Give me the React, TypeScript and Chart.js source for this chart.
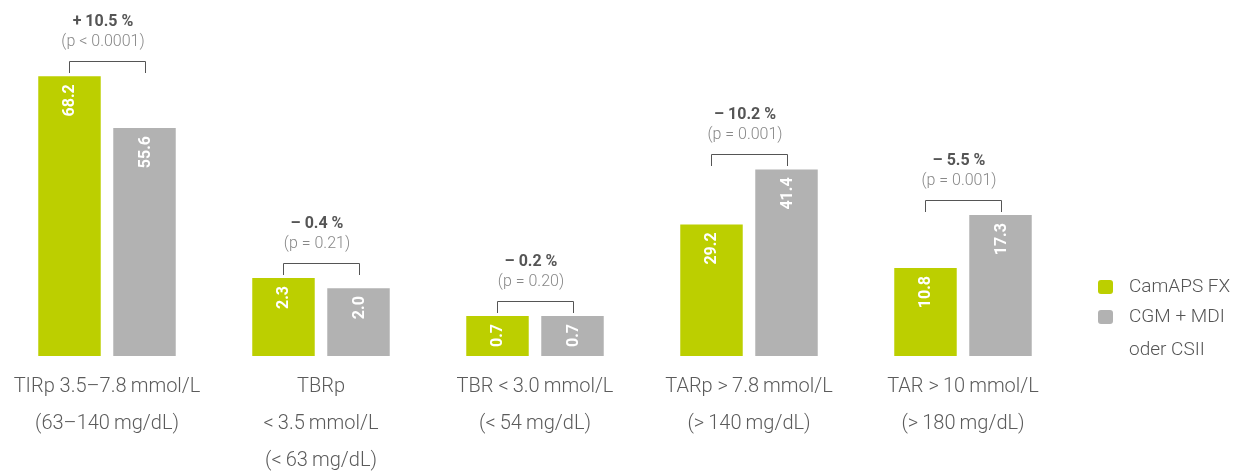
import React, { useEffect, useRef } from "react";
import { Chart, registerables } from "chart.js";

Chart.register(...registerables);

const categories: string[][] = [
  ["TIRp 3.5–7.8\u2009mmol/L", "(63–140\u2009mg/dL)"],
  ["TBRp", "<\u20093.5\u2009mmol/L", "(<\u200963\u2009mg/dL)"],
  ["TBR <\u20093.0\u2009mmol/L", "(<\u200954\u2009mg/dL)"],
  ["TARp >\u20097.8\u2009mmol/L", "(>\u2009140\u2009mg/dL)"],
  ["TAR >\u200910\u2009mmol/L", "(>\u2009180\u2009mg/dL)"],
];

const camapsValues = [68.2, 2.3, 0.7, 29.2, 10.8];
const comparatorValues = [55.6, 2.0, 0.7, 41.4, 17.3];
const differences = ["+ 10.5 %", "– 0.4 %", "– 0.2 %", "– 10.2 %", "– 5.5 %"];
const pValues = ["(p < 0.0001)", "(p = 0.21)", "(p = 0.20)", "(p = 0.001)", "(p = 0.001)"];
// each group in the original is drawn on its own (hidden) value scale
const groupScaleMax = [86.8, 10.5, 6.23, 79, 43.7];
const seriesNames = ["CamAPS FX", "CGM + MDI oder CSII"];
const legendLines: string[][] = [["CamAPS FX"], ["CGM + MDI", "oder CSII"]];

const GREEN = "#bccf00";
const GREY = "#b2b2b2";
const FONT = "Roboto, 'Liberation Sans', Arial, sans-serif";

const valueLabelPlugin = {
  id: "valueLabels",
  afterDatasetsDraw(chart: any) {
    const ctx = chart.ctx;
    ctx.save();
    ctx.font = `bold 16px ${FONT}`;
    ctx.fillStyle = "#ffffff";
    ctx.textAlign = "right";
    ctx.textBaseline = "middle";
    chart.data.datasets.forEach((ds: any, di: number) => {
      const meta = chart.getDatasetMeta(di);
      ds.data.forEach((v: number | null, i: number) => {
        if (v === null || v === undefined) return;
        const el = meta.data[i];
        ctx.save();
        ctx.translate(el.x, el.y + 8);
        ctx.rotate(-Math.PI / 2);
        ctx.fillText(v.toFixed(1), 0, 1);
        ctx.restore();
      });
    });
    ctx.restore();
  },
};

const annotationPlugin = {
  id: "groupAnnotations",
  afterDatasetsDraw(chart: any) {
    const ctx = chart.ctx;
    ctx.save();
    for (let g = 0; g < categories.length; g++) {
      const a = chart.getDatasetMeta(2 * g).data[g];
      const b = chart.getDatasetMeta(2 * g + 1).data[g];
      if (!a || !b) continue;
      const top = Math.min(a.y, b.y);
      const by = Math.round(top - 15) + 0.5;
      const legEnd = Math.round(top - 3);
      const x1 = Math.round(a.x) + 0.5;
      const x2 = Math.round(b.x) + 0.5;
      ctx.strokeStyle = "#555555";
      ctx.lineWidth = 1;
      ctx.beginPath();
      ctx.moveTo(x1, legEnd);
      ctx.lineTo(x1, by);
      ctx.lineTo(x2, by);
      ctx.lineTo(x2, legEnd);
      ctx.stroke();
      const cx = (a.x + b.x) / 2 - 4;
      ctx.textAlign = "center";
      ctx.textBaseline = "middle";
      ctx.fillStyle = "#555555";
      ctx.font = `bold 16px ${FONT}`;
      ctx.fillText(differences[g], cx, by - 40);
      ctx.fillStyle = "#888888";
      ctx.font = `300 16px ${FONT}`;
      ctx.fillText(pValues[g], cx, by - 20);
    }
    ctx.restore();
  },
};

const legendPlugin = {
  id: "sideLegend",
  afterDraw(chart: any) {
    const ctx = chart.ctx;
    const area = chart.chartArea;
    const x0 = area.right + 28;
    let y = area.bottom - 69;
    const colors = [GREEN, GREY];
    ctx.save();
    ctx.textAlign = "left";
    ctx.textBaseline = "middle";
    ctx.font = `300 19px ${FONT}`;
    legendLines.forEach((lines, i) => {
      ctx.fillStyle = colors[i];
      ctx.beginPath();
      (ctx as any).roundRect(x0, y - 7, 15, 14, 3);
      ctx.fill();
      ctx.fillStyle = "#555555";
      lines.forEach((t, li) => {
        ctx.fillText(t, x0 + 31, y + li * 33);
      });
      y += 30 + (lines.length - 1) * 33;
    });
    ctx.restore();
  },
};

export default function App() {
  const ref = useRef<HTMLCanvasElement | null>(null);
  useEffect(() => {
    document.body.style.margin = "0";
    if (!ref.current) return;
    const datasets: any[] = [];
    for (let g = 0; g < categories.length; g++) {
      datasets.push({
        label: seriesNames[0],
        data: categories.map((_, i) => (i === g ? camapsValues[g] : null)),
        backgroundColor: GREEN,
        yAxisID: "y" + g,
      });
      datasets.push({
        label: seriesNames[1],
        data: categories.map((_, i) => (i === g ? comparatorValues[g] : null)),
        backgroundColor: GREY,
        yAxisID: "y" + g,
      });
    }
    const scales: any = {
      x: {
        type: "category",
        offset: true,
        stacked: false,
        grid: { display: false, drawTicks: false },
        border: { display: false },
        ticks: {
          padding: 12,
          color: "#5b5b5b",
          autoSkip: false,
          maxRotation: 0,
          font: { family: FONT, size: 20, weight: "300", lineHeight: 37 / 20 },
        },
        afterFit: (s: any) => {
          s.height = 117;
        },
      },
    };
    groupScaleMax.forEach((m, g) => {
      scales["y" + g] = { type: "linear", display: false, min: 0, max: m, stacked: false };
    });
    const chart = new Chart(ref.current, {
      type: "bar",
      data: { labels: categories, datasets },
      options: {
        responsive: false,
        animation: false,
        skipNull: true,
        categoryPercentage: 0.701,
        barPercentage: 0.833,
        layout: { padding: { left: 0, right: 188, top: 0, bottom: 0 } },
        plugins: { legend: { display: false }, tooltip: { enabled: false } },
        scales,
      } as any,
      plugins: [valueLabelPlugin, annotationPlugin, legendPlugin],
    });
    return () => chart.destroy();
  }, []);
  return (
    <div style={{ width: 1258, height: 473, background: "#fff" }}>
      <canvas ref={ref} width={1258} height={473} />
    </div>
  );
}
